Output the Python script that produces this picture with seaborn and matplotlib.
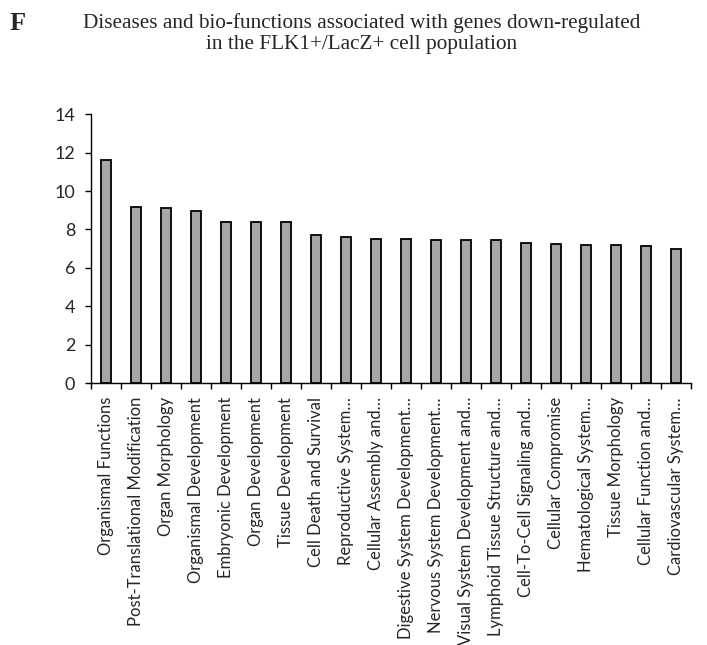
import matplotlib
matplotlib.use("Agg")
import matplotlib.pyplot as plt
import pandas as pd
import seaborn as sns
from matplotlib.ticker import FixedLocator

categories = [
    "Organismal Functions", "Post-Translational Modification", "Organ Morphology",
    "Organismal Development", "Embryonic Development", "Organ Development",
    "Tissue Development", "Cell Death and Survival", "Reproductive System…",
    "Cellular Assembly and…", "Digestive System Development…",
    "Nervous System Development…", "Visual System Development and…",
    "Lymphoid Tissue Structure and…", "Cell-To-Cell Signaling and…",
    "Cellular Compromise", "Hematological System…", "Tissue Morphology",
    "Cellular Function and…", "Cardiovascular System…",
]
values = [11.6, 9.17, 9.14, 8.98, 8.39, 8.39, 8.39, 7.70, 7.62, 7.51,
          7.48, 7.47, 7.47, 7.45, 7.29, 7.24, 7.19, 7.19, 7.14, 7.00]
y_ticks = [0, 2, 4, 6, 8, 10, 12, 14]

df = pd.DataFrame({"Category": categories, "Value": values})

sns.set_style("white")
plt.rcParams["font.family"] = ["Lato", "DejaVu Sans"]

fig = plt.figure(figsize=(7.07, 6.45), dpi=100)
ax = fig.add_axes([0.129, 0.406, 0.848, 0.417])

sns.barplot(data=df, x="Category", y="Value", color="#A6A6A6", saturation=1,
            width=0.33, edgecolor="black", linewidth=1.3, ax=ax)

ax.set_xlim(-0.5, len(categories) - 0.5)
ax.set_ylim(0, 14)
ax.set_yticks(y_ticks)
ax.set_yticklabels([str(t) for t in y_ticks], fontsize=13)
ax.set_xticks(range(len(categories)))
ax.set_xticklabels(categories, rotation=90, fontsize=12)
ax.tick_params(axis="x", which="major", length=0, pad=10)
ax.xaxis.set_minor_locator(FixedLocator([i - 0.5 for i in range(len(categories) + 1)]))
ax.tick_params(axis="x", which="minor", length=4.5, width=1, color="black", direction="out", bottom=True)
ax.tick_params(axis="y", length=4.5, width=1, color="black", direction="out", left=True, pad=7)
ax.set_xlabel("")
ax.set_ylabel("")
for s in ["top", "right"]:
    ax.spines[s].set_visible(False)
for s in ["left", "bottom"]:
    ax.spines[s].set_color("black")
    ax.spines[s].set_linewidth(1)

fig.text(0.512, 0.979, "Diseases and bio-functions associated with genes down-regulated\nin the FLK1+/LacZ+ cell population",
         ha="center", va="top", fontsize=15.3, family=["Liberation Serif", "DejaVu Serif"], linespacing=1.1)
fig.text(0.014, 0.982, "F", ha="left", va="top", fontsize=19, fontweight="bold",
         family=["Liberation Serif", "DejaVu Serif"])

fig.savefig("out.png", dpi=100)
